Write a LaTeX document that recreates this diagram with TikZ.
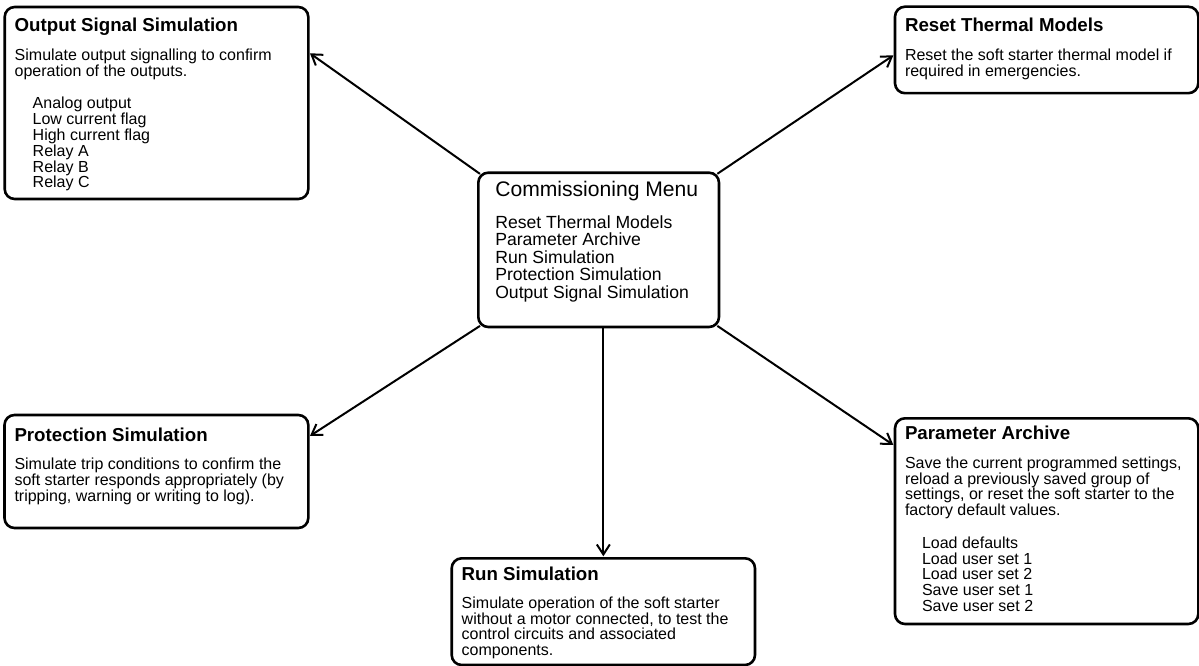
\documentclass[tikz,border=0pt]{standalone}
\usepackage{fontspec}
\setmainfont{Liberation Sans}
\usepackage{tikz}
\usetikzlibrary{arrows.meta, calc}
\definecolor{mydark}{RGB}{0,0,0}
\newcommand{\ttlfont}{\fontsize{18.7pt}{20pt}\selectfont\bfseries}
\newcommand{\txtfont}{\fontsize{16pt}{15.8pt}\selectfont}
\newcommand{\menufont}{\fontsize{17.6pt}{17.5pt}\selectfont}
\tikzset{
  panel/.style={rectangle, draw=mydark, line width=2.6pt,
    rounded corners=10pt, anchor=north west,
    inner xsep=10pt, inner ysep=0pt, outer sep=0pt},
  menubox/.style={panel, inner xsep=17pt},
  arrow/.style={-{Straight Barb[length=10pt,width=13pt]}, line width=2pt,
    color=mydark, shorten >=2pt, shorten <=-2pt}
}

\begin{document}
\begin{tikzpicture}[x=1pt, y=-1pt]
  \useasboundingbox (0,0) rectangle (1199,666);

  % Centre menu
  \node[menubox] (cm) at (478.3,172.7) {\begin{minipage}[t][154.3pt][t]{206.7pt}\raggedright
    {\fontsize{21.1pt}{24pt}\selectfont\rule{0pt}{24pt}Commissioning Menu\par}
    \vspace{14.1pt}
    {\menufont Reset Thermal Models\\
    Parameter Archive\\
    Run Simulation\\
    Protection Simulation\\
    Output Signal Simulation\par}
  \end{minipage}};

  % Sub menus
  \node[panel] (oss) at (4.7,7) {\begin{minipage}[t][192pt][t]{283.6pt}\raggedright\txtfont
    {\ttlfont\rule{0pt}{25pt}Output Signal Simulation\par}
    \vspace{12.8pt}
    Simulate output signalling to confirm\\
    operation of the outputs.\par
    \vspace{16.8pt}
    {\leftskip=18pt Analog output\\
    Low current flag\\
    High current flag\\
    Relay A\\
    Relay B\\
    Relay C\par}
  \end{minipage}};

  \node[panel] (rtm) at (895,6.7) {\begin{minipage}[t][86.5pt][t]{283.3pt}\raggedright\txtfont
    {\ttlfont\rule{0pt}{25pt}Reset Thermal Models\par}
    \vspace{13.4pt}
    Reset the soft starter thermal model if\\
    required in emergencies.\par
  \end{minipage}};

  \node[panel] (pst) at (4.5,415) {\begin{minipage}[t][113pt][t]{283.8pt}\raggedright\txtfont
    {\ttlfont\rule{0pt}{26.7pt}Protection Simulation\par}
    \vspace{12pt}
    Simulate trip conditions to confirm the\\
    soft starter responds appropriately (by\\
    tripping, warning or writing to log).\par
  \end{minipage}};

  \node[panel] (rs) at (451.7,558.3) {\begin{minipage}[t][106.7pt][t]{283.3pt}\raggedright\txtfont
    {\ttlfont\rule{0pt}{21.7pt}Run Simulation\par}
    \vspace{12.5pt}
    Simulate operation of the soft starter\\
    without a motor connected, to test the\\
    control circuits and associated\\
    components.\par
  \end{minipage}};

  \node[panel] (pa) at (895,418.3) {\begin{minipage}[t][205.7pt][t]{283.3pt}\raggedright\txtfont
    {\ttlfont\rule{0pt}{21pt}Parameter Archive\par}
    \vspace{13.2pt}
    Save the current programmed settings,\\
    reload a previously saved group of\\
    settings, or reset the soft starter to the\\
    factory default values.\par
    \vspace{16.8pt}
    {\leftskip=17pt Load defaults\\
    Load user set 1\\
    Load user set 2\\
    Save user set 1\\
    Save user set 2\par}
  \end{minipage}};

  % Connectors
  \draw[arrow] (cm.north west) -- ($(oss.north east)!0.235!(oss.south east)$);
  \draw[arrow] (cm.north east) -- ($(rtm.north west)!0.55!(rtm.south west)$);
  \draw[arrow] (cm.south west) -- ($(pst.north east)!0.195!(pst.south east)$);
  \draw[arrow] (cm.south east) -- ($(pa.north west)!0.135!(pa.south west)$);
  \draw[arrow, shorten <=0pt] (rs.north |- cm.south) -- (rs.north);
\end{tikzpicture}
\end{document}
